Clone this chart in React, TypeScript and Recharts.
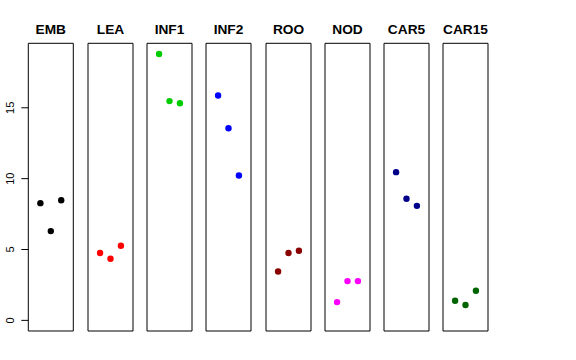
import { ScatterChart, Scatter, XAxis, YAxis, ReferenceArea } from 'recharts';

const tissues = ['EMB', 'LEA', 'INF1', 'INF2', 'ROO', 'NOD', 'CAR5', 'CAR15'];
const colors = ['#000000', '#FF0000', '#00CD00', '#0000FF', '#8B0000', '#FF00FF', '#00008B', '#006400'];
const replicates = [1, 2, 3];

const emb = [8.27, 6.3, 8.48];
const lea = [4.75, 4.35, 5.26];
const inf1 = [18.8, 15.47, 15.32];
const inf2 = [15.87, 13.56, 10.22];
const roo = [3.45, 4.75, 4.91];
const nod = [1.29, 2.77, 2.77];
const car5 = [10.46, 8.58, 8.08];
const car15 = [1.38, 1.08, 2.09];

const seriesValues = [emb, lea, inf1, inf2, roo, nod, car5, car15];
const yTicks = [0, 5, 10, 15];

const xDomain: [number, number] = [-0.16, 4.16];
const yDomain: [number, number] = [-0.75, 19.55];

const PANEL_W = 45;
const PANEL_STEP = 59.3;
const FIRST_LEFT = 28.3;
const PAD = 8;
const FONT = '"Liberation Sans", Arial, Helvetica, sans-serif';

const YTick = ({ x, y, payload }: any) => (
  <text
    x={x - 5}
    y={y}
    transform={`rotate(-90, ${x - 5}, ${y})`}
    textAnchor="middle"
    fontSize={11}
    fontFamily={FONT}
    fill="#000"
  >
    {payload.value}
  </text>
);

const Panel = ({ index }: { index: number }) => {
  const first = index === 0;
  const data = replicates.map((r, i) => ({ rep: r, value: seriesValues[index][i] }));
  const color = colors[index];
  const left = first ? 0 : FIRST_LEFT + index * PANEL_STEP - PAD;
  const width = first ? FIRST_LEFT + PANEL_W + PAD : PANEL_W + 2 * PAD;
  return (
    <div style={{ position: 'absolute', left, top: 0 }}>
      <ScatterChart
        width={width}
        height={360}
        margin={{ top: 43.3, bottom: 29, left: first ? 0 : PAD, right: PAD }}
        style={{ overflow: 'visible' }}
      >
        <XAxis type="number" dataKey="rep" domain={xDomain} allowDataOverflow hide />
        <YAxis
          type="number"
          dataKey="value"
          domain={yDomain}
          allowDataOverflow
          ticks={yTicks}
          hide={!first}
          width={FIRST_LEFT}
          axisLine={false}
          tickLine={{ stroke: '#000' }}
          tickSize={7}
          tick={<YTick />}
        />
        <ReferenceArea
          x1={xDomain[0]}
          x2={xDomain[1]}
          y1={yDomain[0]}
          y2={yDomain[1]}
          fill="none"
          fillOpacity={0}
          stroke="#000"
          strokeWidth={1}
          label={{
            value: tissues[index],
            position: 'top',
            offset: 9,
            fontSize: 13.7,
            fontWeight: 'bold',
            fontFamily: FONT,
            fill: '#000',
          }}
        />
        <Scatter
          data={data}
          isAnimationActive={false}
          shape={(p: any) => <circle cx={p.cx} cy={p.cy} r={3.2} fill={color} />}
        />
      </ScatterChart>
    </div>
  );
};

export default function App() {
  return (
    <div style={{ position: 'absolute', left: 0, top: 0, width: 576, height: 360, background: '#fff' }}>
      {tissues.map((t, i) => (
        <Panel key={t} index={i} />
      ))}
    </div>
  );
}
